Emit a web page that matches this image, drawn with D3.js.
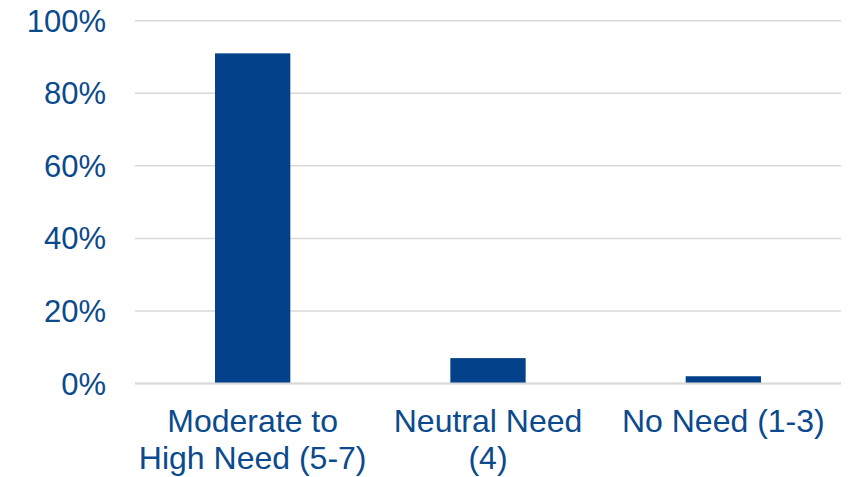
<!DOCTYPE html>
<html>
<head>
<meta charset="utf-8">
<script src="https://cdn.jsdelivr.net/npm/d3@7"></script>
<style>
  html, body { margin: 0; padding: 0; background: #ffffff; }
  svg { display: block; font-family: Arial, "Liberation Sans", sans-serif; }
</style>
</head>
<body>
<svg id="chart" width="851" height="477"></svg>
<script>
// Share of respondents by level of need
const categories = [["Moderate to", "High Need (5-7)"], ["Neutral Need", "(4)"], ["No Need (1-3)"]];
const values = [0.91, 0.07, 0.02];
const tickValues = [0, 0.2, 0.4, 0.6, 0.8, 1.0];

const svg = d3.select("#chart");
const plotLeft = 135, plotRight = 841, plotTop = 20.7, plotBottom = 383.5;
const textColor = "#0b4a8c";
const barColor = "#03428a";

const x = d3.scaleBand()
  .domain(d3.range(categories.length))
  .range([plotLeft, plotRight])
  .paddingInner(0.68)
  .paddingOuter(0.34);

const y = d3.scaleLinear().domain([0, 1]).range([plotBottom, plotTop]);

// horizontal gridlines
svg.append("g")
  .selectAll("line")
  .data(tickValues)
  .join("line")
  .attr("x1", plotLeft).attr("x2", plotRight)
  .attr("y1", d => y(d)).attr("y2", d => y(d))
  .attr("stroke", "#d9d9d9")
  .attr("stroke-width", 1.5);

// y axis labels
const yAxis = d3.axisLeft(y)
  .tickValues(tickValues)
  .tickFormat(d3.format(".0%"))
  .tickSize(0)
  .tickPadding(0);

svg.append("g")
  .attr("transform", "translate(106,0)")
  .call(yAxis)
  .call(g => g.select(".domain").remove())
  .call(g => g.selectAll("text")
    .attr("fill", textColor)
    .attr("dy", "0.34em")
    .style("font-size", "31px")
    .style("font-family", "Arial, 'Liberation Sans', sans-serif"));

// bars
svg.append("g")
  .selectAll("rect")
  .data(values)
  .join("rect")
  .attr("x", (d, i) => x(i))
  .attr("width", x.bandwidth())
  .attr("y", d => y(d))
  .attr("height", d => y(0) - y(d))
  .attr("fill", barColor);

// baseline
svg.append("line")
  .attr("x1", plotLeft).attr("x2", plotRight)
  .attr("y1", y(0)).attr("y2", y(0))
  .attr("stroke", "#d9d9d9")
  .attr("stroke-width", 2);

// category labels
const labels = svg.append("g")
  .selectAll("text")
  .data(categories)
  .join("text")
  .attr("x", (d, i) => x(i) + x.bandwidth() / 2)
  .attr("y", 432)
  .attr("text-anchor", "middle")
  .attr("fill", textColor)
  .style("font-size", "32px");

labels.selectAll("tspan")
  .data(d => d)
  .join("tspan")
  .attr("x", function () { return d3.select(this.parentNode).attr("x"); })
  .attr("dy", (d, i) => i === 0 ? 0 : 37)
  .text(d => d);
</script>
</body>
</html>
